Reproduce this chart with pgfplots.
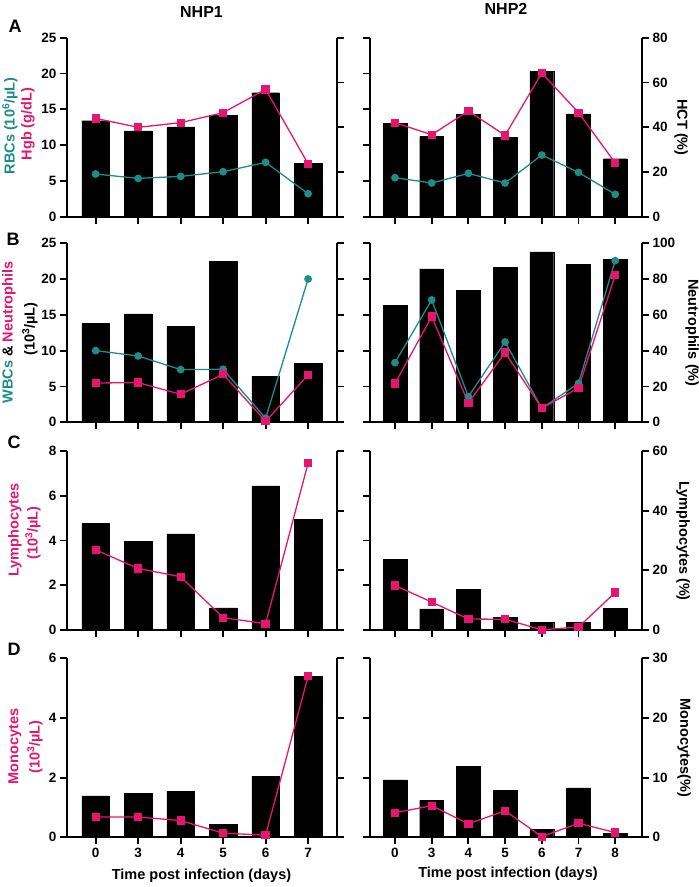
\documentclass[border=0pt]{standalone}
\usepackage{fontspec}
\setmainfont{Liberation Sans}
\usepackage{pgfplots}
\pgfplotsset{compat=1.18}
\definecolor{pk}{RGB}{230,22,110}
\definecolor{tl}{RGB}{30,140,136}
\newcommand{\lbl}{\fontsize{14.5bp}{17bp}\selectfont\bfseries}
\newcommand{\tkl}{\fontsize{13.5bp}{15bp}\selectfont\bfseries}
\pgfplotsset{
 common/.style={scale only axis, height=179bp, ymin=0, clip=false,
   axis line style={line width=1.8bp, -}, tick style={line width=1.8bp, black},
   major tick length=7bp, tick align=outside,
   tick label style={font=\tkl}, /pgf/number format/assume math mode=true,
   every outer x axis line/.append style={-}, every outer y axis line/.append style={-}},
 Lp/.style={width=270bp, xmin=-0.675, xmax=5.68, xtick={0,...,5}},
 Rp/.style={width=272bp, xmin=-0.68, xmax=6.73, xtick={0,...,6}},
 barax/.style={common, axis x line*=bottom, axis y line*=right},
 lineax/.style={common, axis y line*=left, hide x axis},
 bars/.style={ybar, bar width=0.65, fill=black, draw=black},
 tline/.style={color=tl, line width=1.3bp, mark=*, mark size=3.2bp, mark options={solid}},
 pline/.style={color=pk, line width=1.3bp, mark=square*, mark size=3.5bp, mark options={solid}},
}
\begin{document}
\begin{tikzpicture}
\useasboundingbox (0,0) rectangle (699bp,887bp);
% ---------------- Row A ----------------
\begin{axis}[barax, Lp, at={(67bp,670.3bp)}, anchor=south west, ymax=80, ytick={0,20,...,80}, yticklabels={}, xticklabels={}]
\addplot[bars] coordinates {(0,42.9) (1,38.3) (2,40.1) (3,45.3) (4,55.4) (5,23.7)};
\end{axis}
\begin{axis}[lineax, Lp, at={(67bp,670.3bp)}, anchor=south west, ymax=25, ytick={0,5,...,25}]
\addplot[tline] coordinates {(0,5.96) (1,5.35) (2,5.63) (3,6.28) (4,7.59) (5,3.21)};
\addplot[pline] coordinates {(0,13.73) (1,12.48) (2,13.13) (3,14.53) (4,17.78) (5,7.40)};
\end{axis}
\begin{axis}[barax, Rp, at={(370bp,670.3bp)}, anchor=south west, ymax=80, ytick={0,20,...,80}, xticklabels={}]
\addplot[bars] coordinates {(0,41.6) (1,35.8) (2,45.7) (3,35.6) (4,65.1) (5,45.9) (6,25.9)};
\end{axis}
\begin{axis}[lineax, Rp, at={(370bp,670.3bp)}, anchor=south west, ymax=25, ytick={0,5,...,25}, yticklabels={}]
\addplot[tline] coordinates {(0,5.45) (1,4.70) (2,6.05) (3,4.70) (4,8.61) (5,6.19) (6,3.12)};
\addplot[pline] coordinates {(0,13.13) (1,11.45) (2,14.76) (3,11.36) (4,20.07) (5,14.53) (6,7.50)};
\end{axis}
% ---------------- Row B ----------------
\begin{axis}[barax, Lp, at={(67bp,464.7bp)}, anchor=south west, ymax=100, ytick={0,20,...,100}, yticklabels={}, xticklabels={}]
\addplot[bars] coordinates {(0,55.3) (1,60.5) (2,53.6) (3,89.9) (4,25.7) (5,33.0)};
\end{axis}
\begin{axis}[lineax, Lp, at={(67bp,464.7bp)}, anchor=south west, ymax=25, ytick={0,5,...,25}]
\addplot[tline] coordinates {(0,10.01) (1,9.26) (2,7.36) (3,7.40) (4,0.56) (5,20.02)};
\addplot[pline] coordinates {(0,5.49) (1,5.54) (2,3.91) (3,6.70) (4,0.14) (5,6.61)};
\end{axis}
\begin{axis}[barax, Rp, at={(370bp,464.7bp)}, anchor=south west, ymax=100, ytick={0,20,...,100}, xticklabels={}]
\addplot[bars] coordinates {(0,65.2) (1,85.7) (2,73.7) (3,86.4) (4,95.2) (5,88.1) (6,91.1)};
\end{axis}
\begin{axis}[lineax, Rp, at={(370bp,464.7bp)}, anchor=south west, ymax=25, ytick={0,5,...,25}, yticklabels={}]
\addplot[tline] coordinates {(0,8.33) (1,17.09) (2,3.58) (3,11.22) (4,1.96) (5,5.45) (6,22.58)};
\addplot[pline] coordinates {(0,5.40) (1,14.76) (2,2.70) (3,9.73) (4,1.96) (5,4.80) (6,20.58)};
\end{axis}
% ---------------- Row C ----------------
\begin{axis}[barax, Lp, at={(67bp,257bp)}, anchor=south west, ymax=60, ytick={0,20,...,60}, yticklabels={}, xticklabels={}]
\addplot[bars] coordinates {(0,35.7) (1,29.8) (2,32.2) (3,7.4) (4,48.3) (5,37.1)};
\end{axis}
\begin{axis}[lineax, Lp, at={(67bp,257bp)}, anchor=south west, ymax=8, ytick={0,2,...,8}]
\addplot[pline] coordinates {(0,3.58) (1,2.75) (2,2.38) (3,0.55) (4,0.28) (5,7.46)};
\end{axis}
\begin{axis}[barax, Rp, at={(370bp,257bp)}, anchor=south west, ymax=60, ytick={0,20,...,60}, xticklabels={}]
\addplot[bars] coordinates {(0,23.6) (1,7.1) (2,13.6) (3,4.2) (4,2.5) (5,2.6) (6,7.2)};
\end{axis}
\begin{axis}[lineax, Rp, at={(370bp,257bp)}, anchor=south west, ymax=8, ytick={0,2,...,8}, yticklabels={}]
\addplot[pline] coordinates {(0,1.99) (1,1.25) (2,0.49) (3,0.48) (4,0.01) (5,0.13) (6,1.68)};
\end{axis}
% ---------------- Row D ----------------
\begin{axis}[barax, Lp, at={(67bp,49.7bp)}, anchor=south west, ymax=30, ytick={0,10,...,30}, yticklabels={}, xticklabels={0,3,4,5,6,7}]
\addplot[bars] coordinates {(0,6.96) (1,7.35) (2,7.74) (3,2.17) (4,10.24) (5,27.0)};
\end{axis}
\begin{axis}[lineax, Lp, at={(67bp,49.7bp)}, anchor=south west, ymax=6, ytick={0,2,...,6}]
\addplot[pline] coordinates {(0,0.68) (1,0.68) (2,0.56) (3,0.14) (4,0.07) (5,5.40)};
\end{axis}
\begin{axis}[barax, Rp, at={(370bp,49.7bp)}, anchor=south west, ymax=30, ytick={0,10,...,30}, xticklabels={0,3,4,5,6,7,8}]
\addplot[bars] coordinates {(0,9.63) (1,6.18) (2,11.85) (3,7.85) (4,1.34) (5,8.29) (6,0.67)};
\end{axis}
\begin{axis}[lineax, Rp, at={(370bp,49.7bp)}, anchor=south west, ymax=6, ytick={0,2,...,6}, yticklabels={}]
\addplot[pline] coordinates {(0,0.82) (1,1.06) (2,0.45) (3,0.89) (4,0.02) (5,0.47) (6,0.16)};
\end{axis}
% ---------------- Texts ----------------
\node[font=\fontsize{16bp}{18bp}\selectfont\bfseries] at (201.5bp,874.5bp) {NHP1};
\node[font=\fontsize{16bp}{18bp}\selectfont\bfseries] at (506bp,878bp) {NHP2};
\node[font=\fontsize{18bp}{20bp}\selectfont\bfseries] at (15bp,860.5bp) {A};
\node[font=\fontsize{18bp}{20bp}\selectfont\bfseries] at (13bp,648bp) {B};
\node[font=\fontsize{18bp}{20bp}\selectfont\bfseries] at (14bp,444.5bp) {C};
\node[font=\fontsize{18bp}{20bp}\selectfont\bfseries] at (14bp,238bp) {D};
% left labels
\node[font=\lbl, rotate=90, text=tl] at (10bp,761bp) {RBCs (10\textsuperscript{6}/µL)};
\node[font=\lbl, rotate=90, text=pk] at (28bp,763bp) {Hgb (g/dL)};
\node[font=\lbl, rotate=90] at (9bp,554.5bp) {\textcolor{tl}{WBCs} \& \textcolor{pk}{Neutrophils}};
\node[font=\lbl, rotate=90] at (30bp,558bp) {(10\textsuperscript{3}/µL)};
\node[font=\lbl, rotate=90, text=pk] at (15bp,357bp) {Lymphocytes};
\node[font=\lbl, rotate=90, text=pk] at (33bp,354bp) {(10\textsuperscript{3}/µL)};
\node[font=\lbl, rotate=90, text=pk] at (15bp,140.5bp) {Monocytes};
\node[font=\lbl, rotate=90, text=pk] at (35bp,140bp) {(10\textsuperscript{3}/µL)};
% right labels
\node[font=\lbl, rotate=-90] at (681bp,759.5bp) {HCT (\%)};
\node[font=\lbl, rotate=-90] at (692bp,554bp) {Neutrophils (\%)};
\node[font=\lbl, rotate=-90] at (683bp,346bp) {Lymphocytes (\%)};
\node[font=\lbl, rotate=-90] at (684bp,139bp) {Monocytes(\%)};
% x labels
\node[font=\lbl] at (201.5bp,11bp) {Time post infection (days)};
\node[font=\lbl] at (508bp,13bp) {Time post infection (days)};
\end{tikzpicture}
\end{document}
